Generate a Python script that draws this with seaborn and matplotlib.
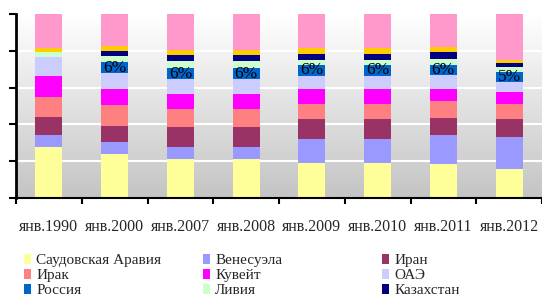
import numpy as np
import pandas as pd
import matplotlib.pyplot as plt
import seaborn as sns
from matplotlib.colors import LinearSegmentedColormap
from matplotlib.patches import Patch

# доли стран в мировой добыче, %
years = ["янв.1990", "янв.2000", "янв.2007", "янв.2008",
         "янв.2009", "янв.2010", "янв.2011", "янв.2012"]
saudi = [27.8, 24.1, 21.3, 21.3, 19.2, 19.2, 18.6, 15.9]
venezuela = [6.5, 6.5, 6.5, 6.5, 13.0, 13.0, 15.7, 17.4]
iran = [9.8, 8.7, 10.8, 10.8, 10.8, 10.8, 9.2, 9.8]
iraq = [10.8, 11.4, 9.8, 9.8, 8.1, 8.1, 9.2, 8.1]
kuwait = [11.4, 8.7, 8.1, 8.1, 8.1, 8.1, 6.5, 6.5]
uae = [10.3, 8.7, 8.1, 8.1, 7.1, 7.1, 7.6, 5.4]
russia = [0, 5.6, 6.0, 6.0, 6.0, 6.0, 5.6, 5.4]
libya = [2.7, 3.3, 3.8, 3.8, 2.7, 2.7, 3.3, 2.7]
kazakhstan = [0, 2.7, 3.3, 3.3, 3.3, 3.3, 3.8, 2.2]
nigeria = [2.4, 2.7, 2.9, 2.9, 3.4, 3.4, 2.4, 1.6]
others = [18.3, 17.6, 19.4, 19.4, 18.3, 18.3, 18.1, 25.0]

names = ["Саудовская Аравия", "Венесуэла", "Иран", "Ирак", "Кувейт", "ОАЭ",
         "Россия", "Ливия", "Казахстан", "Нигерия", "Прочие"]
colors = ["#FFFF99", "#9999FF", "#993366", "#FF8080", "#FF00FF", "#CCCCFF",
          "#0066CC", "#CCFFCC", "#000080", "#FFCC00", "#FF99CC"]

df = pd.DataFrame(dict(zip(names, [saudi, venezuela, iran, iraq, kuwait, uae,
                                   russia, libya, kazakhstan, nigeria, others])),
                  index=years)
cum = df.cumsum(axis=1)

sns.set_theme(style="white")
plt.rcParams['font.family'] = ['Liberation Serif', 'DejaVu Serif']

fig = plt.figure(figsize=(5.42, 2.98), dpi=100)
ax = fig.add_axes([16 / 542, 1 - 198 / 298, 526 / 542, 184 / 298])

# серый градиентный фон
bg = LinearSegmentedColormap.from_list("bg", ["#C4C4C4", "#FFFFFF"])
ax.imshow(np.linspace(1, 0, 256).reshape(-1, 1), cmap=bg, aspect="auto",
          extent=(-0.5, 7.5, 0, 100), zorder=0)

# накопленные столбцы сверху вниз, каждый следующий закрывает предыдущий
for name, col in reversed(list(zip(names, colors))):
    sns.barplot(x=years, y=cum[name].values, color=col, saturation=1,
                width=0.41, linewidth=0, ax=ax, zorder=2)

# подписи для России
base = cum["Ливия"] - df["Ливия"] - df["Россия"]
for i, v in enumerate(russia):
    if v > 0:
        ax.text(i, base.iloc[i] + v / 2, f"{round(v)}%", ha="center",
                va="center", fontsize=12.5, color="black", zorder=3)

ax.set_xlim(-0.5, 7.5)
ax.set_ylim(0, 100)
ax.set_yticks(range(0, 101, 20))
ax.set_yticklabels([])
ax.yaxis.grid(True, color="white", lw=1.5)
ax.set_axisbelow(True)
ax.set_xticks(np.arange(-0.5, 8, 1), minor=True)
ax.tick_params(axis="x", which="major", length=0, pad=15, labelsize=11.5)
ax.tick_params(axis="x", which="minor", length=4, width=1.5, color="black",
               direction="out", bottom=True)
ax.tick_params(axis="y", length=5, width=1.5, color="black", direction="out",
               left=True)
ax.set_xlabel("")
ax.set_ylabel("")
for s in ["top", "right"]:
    ax.spines[s].set_visible(False)
ax.spines["left"].set_color("black")
ax.spines["left"].set_linewidth(2)
ax.spines["bottom"].set_color("black")
ax.spines["bottom"].set_linewidth(1.5)

# легенда в три колонки, как в Excel
cols = [[0, 3, 6, 9], [1, 4, 7, 10], [2, 5, 8]]
xs = [24, 203, 382]
for x, idx in zip(xs, cols):
    handles = [Patch(facecolor=colors[k], edgecolor="none", label=names[k])
               for k in idx]
    fig.legend(handles=handles, loc="upper left",
               bbox_to_anchor=(x / 542, 1 - 254 / 298),
               frameon=False, fontsize=11, handlelength=0.45,
               handleheight=0.6, handletextpad=0.35, labelspacing=0.12,
               borderpad=0, borderaxespad=0)

fig.savefig("out.png", dpi=100)
